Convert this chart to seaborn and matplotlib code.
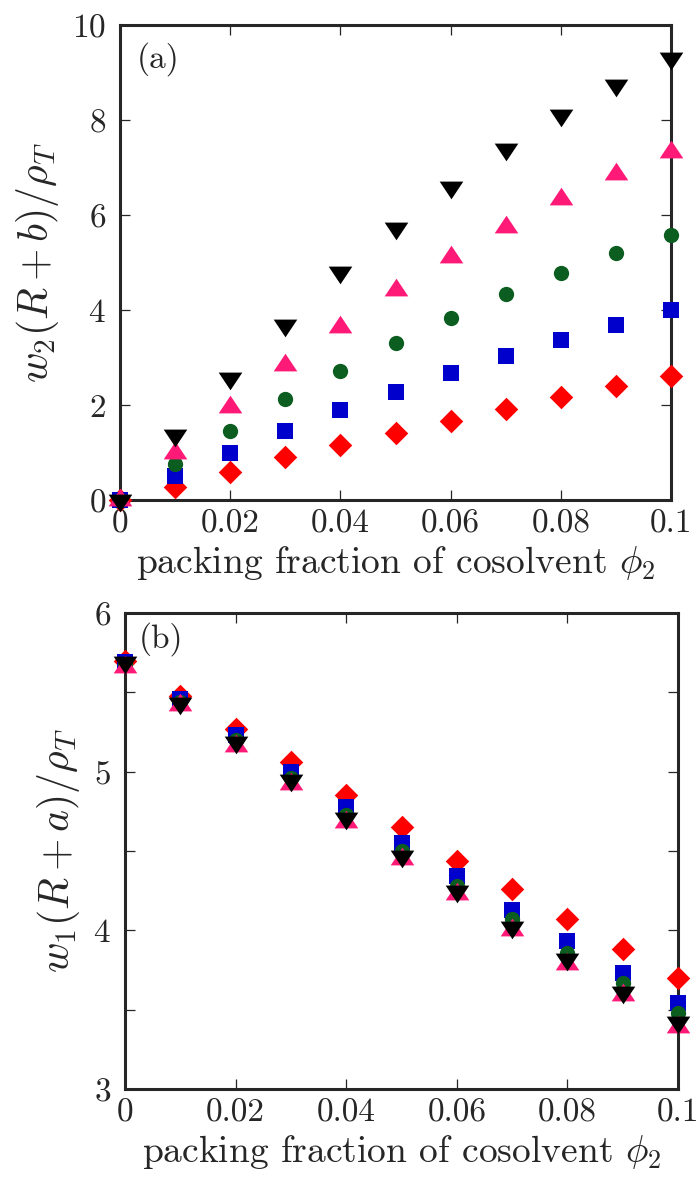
import numpy as np
import pandas as pd
import matplotlib
matplotlib.use("Agg")
import matplotlib.pyplot as plt
from matplotlib.ticker import MultipleLocator
import seaborn as sns

# ---------------- data ----------------
phi2 = [0.0, 0.01, 0.02, 0.03, 0.04, 0.05, 0.06, 0.07, 0.08, 0.09, 0.10]

# panel (a): w2 (R+b) / rho_T
a_red   = [0.0, 0.28, 0.60, 0.91, 1.16, 1.41, 1.67, 1.92, 2.16, 2.39, 2.62]
a_blue  = [0.0, 0.50, 0.98, 1.45, 1.89, 2.28, 2.67, 3.04, 3.37, 3.68, 4.00]
a_green = [0.0, 0.75, 1.46, 2.12, 2.72, 3.31, 3.83, 4.33, 4.78, 5.20, 5.58]
a_pink  = [0.0, 0.98, 1.96, 2.84, 3.65, 4.42, 5.12, 5.75, 6.33, 6.86, 7.33]
a_black = [0.0, 1.37, 2.57, 3.68, 4.80, 5.72, 6.60, 7.39, 8.10, 8.74, 9.30]

# panel (b): w1 (R+a) / rho_T
b_red   = [5.70, 5.48, 5.27, 5.06, 4.85, 4.65, 4.44, 4.26, 4.07, 3.88, 3.70]
b_blue  = [5.69, 5.46, 5.23, 5.00, 4.78, 4.55, 4.34, 4.13, 3.93, 3.73, 3.54]
b_green = [5.68, 5.44, 5.20, 4.96, 4.73, 4.50, 4.28, 4.07, 3.86, 3.67, 3.48]
b_pink  = [5.66, 5.42, 5.16, 4.92, 4.68, 4.45, 4.23, 4.00, 3.79, 3.59, 3.39]
b_black = [5.69, 5.43, 5.19, 4.95, 4.71, 4.47, 4.25, 4.02, 3.82, 3.61, 3.42]

x_ticks = [0, 0.02, 0.04, 0.06, 0.08, 0.1]
x_ticklabels = ["0", "0.02", "0.04", "0.06", "0.08", "0.1"]
a_yticks = [0, 2, 4, 6, 8, 10]
b_yticks = [3, 4, 5, 6]

xlabel = r"packing fraction of cosolvent $\phi_2$"
a_ylabel = r"$w_2(R+b)/\rho_T$"
b_ylabel = r"$w_1(R+a)/\rho_T$"

# ---------------- style ----------------
sns.set_style("ticks")
plt.rcParams["font.family"] = ["cmr10", "DejaVu Serif"]
plt.rcParams["mathtext.fontset"] = "cm"
plt.rcParams["axes.formatter.use_mathtext"] = True

RED = "#ff0000"
BLUE = "#0000cc"
GREEN = "#0b5e1f"
PINK = "#ff1a78"
BLACK = "#000000"

tri_up = [(-1.0, -0.5), (1.0, -0.5), (0.0, 1.0), (-1.0, -0.5)]
tri_dn = [(-1.0, 0.5), (1.0, 0.5), (0.0, -1.0), (-1.0, 0.5)]

def series_specs(red, blue, green, pink, black):
    return [
        (red, RED, "D", 12.0),
        (blue, BLUE, "s", 12.0),
        (green, GREEN, "o", 11.0),
        (pink, PINK, tri_up, 17.0),
        (black, BLACK, tri_dn, 17.0),
    ]

fig = plt.figure(figsize=(6.99, 11.77), dpi=100)
ax_a = fig.add_axes([120/699, 1 - 500/1177, (671-120)/699, (500-25)/1177])
ax_b = fig.add_axes([125/699, 1 - 1089/1177, (678-125)/699, (1089-613)/1177])

def draw(ax, specs):
    for k, (vals, col, mk, ms) in enumerate(specs):
        df = pd.DataFrame({"x": phi2, "y": vals})
        sns.scatterplot(data=df, x="x", y="y", ax=ax, color=col, marker=mk,
                        s=ms**2, linewidth=0, clip_on=False, zorder=5 + k,
                        legend=False)

draw(ax_a, series_specs(a_red, a_blue, a_green, a_pink, a_black))
draw(ax_b, series_specs(b_red, b_blue, b_green, b_pink, b_black))

for ax in (ax_a, ax_b):
    ax.set_xlim(0, 0.1)
    ax.set_xticks(x_ticks)
    ax.set_xticklabels(x_ticklabels)
    for sp in ax.spines.values():
        sp.set_linewidth(2.2)
        sp.set_visible(True)
    ax.tick_params(axis="both", which="both", direction="in", top=True,
                   right=True, length=7, width=0.9, labelsize=24)
    ax.tick_params(axis="x", pad=7)
    ax.tick_params(axis="y", pad=10)
    ax.set_xlabel(xlabel, fontsize=27, labelpad=4)

ax_a.set_ylim(0, 10)
ax_a.set_yticks(a_yticks)
ax_a.set_ylabel(a_ylabel, fontsize=30, labelpad=8)
ax_a.text(0.03, 0.965, "(a)", transform=ax_a.transAxes, fontsize=24,
          ha="left", va="top")

ax_b.set_ylim(3, 6)
ax_b.set_yticks(b_yticks)
ax_b.yaxis.set_minor_locator(MultipleLocator(0.5))
ax_b.tick_params(axis="y", which="minor", length=7, width=0.9)
ax_b.set_ylabel(b_ylabel, fontsize=30, labelpad=8)
ax_b.text(0.025, 0.98, "(b)", transform=ax_b.transAxes, fontsize=24,
          ha="left", va="top")

fig.savefig("out.png", dpi=100)
